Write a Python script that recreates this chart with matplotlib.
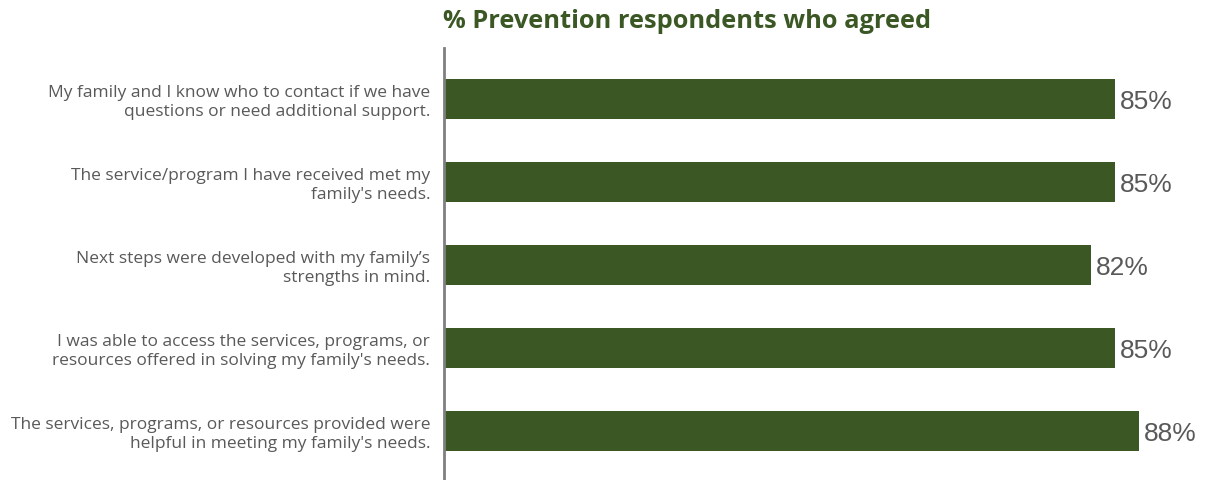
import matplotlib.pyplot as plt

statements = [
    "My family and I know who to contact if we have\nquestions or need additional support.",
    "The service/program I have received met my\nfamily's needs.",
    "Next steps were developed with my family\u2019s\nstrengths in mind.",
    "I was able to access the services, programs, or\nresources offered in solving my family's needs.",
    "The services, programs, or resources provided were\nhelpful in meeting my family's needs.",
]
pct_agreed = [85, 85, 82, 85, 88]

green = "#3A5724"
grey = "#595959"

fig = plt.figure(figsize=(12.05, 4.8), dpi=100)
ax = fig.add_axes([444 / 1205, 0, 1 - 444 / 1205, 432 / 480])

ypos = list(range(len(statements)))
ax.barh(ypos, pct_agreed, height=0.49, color=green)
ax.set_ylim(4.59, -0.615)
ax.set_xlim(0, 96.4)

for y, v in zip(ypos, pct_agreed):
    ax.text(v + 0.6, y + 0.03, f"{v}%", va="center", ha="left",
            fontsize=19, color=grey, family="Liberation Sans")

ax.set_yticks(ypos)
ax.set_yticklabels(statements, fontsize=12.5, color=grey, family="Open Sans",
                   linespacing=1.25)
ax.tick_params(axis="y", length=0, pad=10)
ax.set_xticks([])
for side in ["top", "right", "bottom"]:
    ax.spines[side].set_visible(False)
ax.spines["left"].set_color("#7F7F7F")
ax.spines["left"].set_linewidth(2)

fig.text(687 / 1205, 1 - 22 / 480, "% Prevention respondents who agreed",
         ha="center", va="center", fontsize=18.3, fontweight="bold",
         color=green, family="Open Sans")

fig.savefig("out.png", dpi=100, facecolor="white")
